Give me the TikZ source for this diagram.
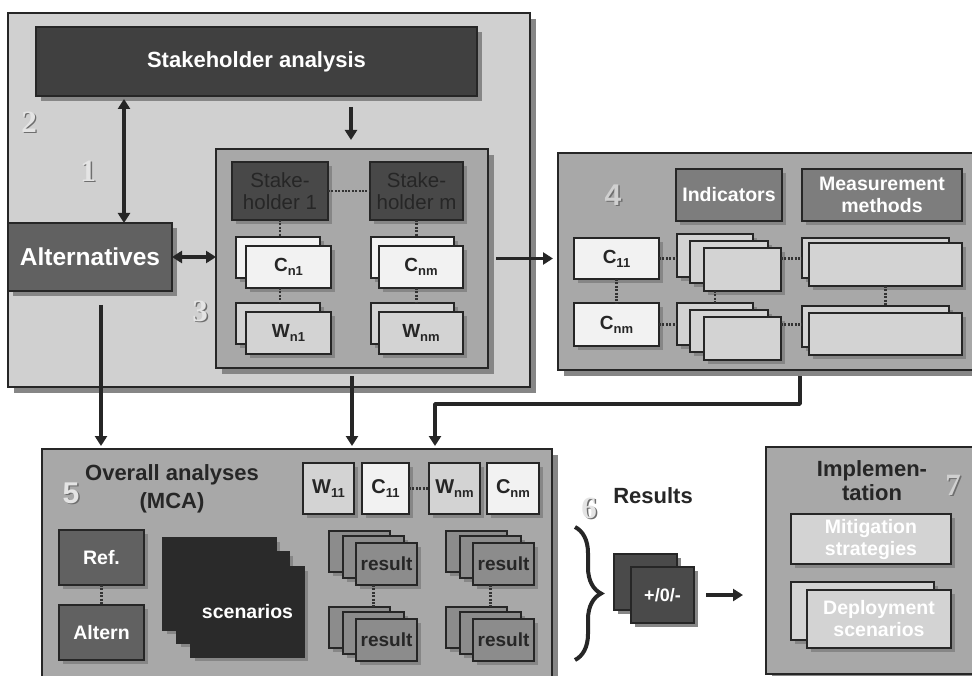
\documentclass[tikz,border=0pt]{standalone}
\usepackage{fontspec}
\setmainfont{Liberation Sans}
\newfontfamily\digfont{Liberation Serif}
\usetikzlibrary{shadows,arrows.meta,decorations.pathreplacing}
\definecolor{cBtwo}{HTML}{D0D0D0}
\definecolor{cMid}{HTML}{A8A8A8}
\definecolor{cDark}{HTML}{404040}
\definecolor{cSh}{HTML}{484848}
\definecolor{cAlt}{HTML}{616161}
\definecolor{cInd}{HTML}{7D7D7D}
\definecolor{cWh}{HTML}{F2F2F2}
\definecolor{cLt}{HTML}{D3D3D3}
\definecolor{cRes}{HTML}{8C8C8C}
\definecolor{cScen}{HTML}{2A2A2A}
\definecolor{cPM}{HTML}{4A4A4A}
\definecolor{shc}{HTML}{868686}
\definecolor{ink}{HTML}{262626}
\definecolor{digc}{HTML}{E4E4E4}
\definecolor{digs}{HTML}{6E6E6E}
\newcommand\fs[2]{\fontsize{#1}{#2}\selectfont}
\newcommand\sbs[1]{\raisebox{-0.4ex}{\fs{13}{13}#1}}
\newcommand\mkbox[7]{\node[#1,anchor=north west,minimum width={(#5)-(#3)},minimum height={(#6)-(#4)}] (#2) at (#3,#4) {#7};}
\begin{document}
\begin{tikzpicture}[x=1pt,y=-1pt,
 bx/.style={draw=black!85,line width=1.4pt,inner sep=0pt,outer sep=0pt,align=center,
   drop shadow={shadow xshift=#1,shadow yshift=-#1,fill=shc,opacity=1}},
 bx/.default=4pt,
 arr/.style={line width=3.5pt,draw=black!85,-{Triangle[length=10pt,width=12pt]}},
 darr/.style={line width=3.5pt,draw=black!85,{Triangle[length=10pt,width=12pt]}-{Triangle[length=10pt,width=12pt]}},
 dotc/.style={draw=black!80,line width=2.6pt,dash pattern=on 2pt off 1.4pt},
 txt/.style={inner sep=0pt,outer sep=0pt,text=ink,align=center},
 dig/.style={inner sep=0pt,text=digc,font=\digfont\bfseries\fs{31}{31}},
 digsh/.style={inner sep=0pt,text=digs,font=\digfont\bfseries\fs{31}{31}},
 wtxt/.style={text=white,font=\bfseries\fs{19.5}{22}},
 ktxt/.style={text=ink,font=\bfseries\fs{19}{21}}
]
\path[clip] (0,0) rectangle (972,676);
\fill[white] (0,0) rectangle (972,676);

% ---------- box 2 ----------
\mkbox{bx=6pt,fill=cBtwo}{box2}{8}{13}{530}{387}{}
\mkbox{bx=5pt,fill=cDark,text=white,font=\bfseries\fs{22}{24}}{sa}{36}{27}{477}{96}{Stakeholder analysis}
\mkbox{bx=6pt,fill=cMid}{box3}{216}{149}{488}{368}{}
\mkbox{bx=5pt,fill=cAlt,text=white,font=\bfseries\fs{24.5}{26}}{alt}{8}{223}{172}{291}{Alternatives}

\node[digsh] (n2s) at (30.5,123.5) {2};
\node[dig] (n2) at (29,122) {2};
\node[digsh] (n1s) at (89.5,172.5) {1};
\node[dig] (n1) at (88,171) {1};
\node[digsh] (n3s) at (201.5,312.5) {3};
\node[dig] (n3) at (200,311) {3};

\mkbox{bx,fill=cSh,text=ink,font=\fs{20.5}{22}}{sh1}{232}{162}{328}{220}{Stake-\\holder 1}
\mkbox{bx,fill=cSh,text=ink,font=\fs{20.5}{22}}{shm}{370}{162}{463}{220}{Stake-\\holder m}
\mkbox{bx,fill=cWh}{cn1b}{236}{237}{320}{278}{}
\mkbox{bx,fill=cWh,ktxt}{cn1}{246}{246}{331}{288}{C\sbs{n1}}
\mkbox{bx,fill=cWh}{cnmb}{371}{237}{454}{278}{}
\mkbox{bx,fill=cWh,ktxt}{cnm}{379}{246}{463}{288}{C\sbs{nm}}
\mkbox{bx,fill=cLt}{wn1b}{236}{303}{320}{344}{}
\mkbox{bx,fill=cLt,ktxt}{wn1}{246}{312}{331}{354}{W\sbs{n1}}
\mkbox{bx,fill=cLt}{wnmb}{371}{303}{454}{344}{}
\mkbox{bx,fill=cLt,ktxt}{wnm}{379}{312}{463}{354}{W\sbs{nm}}

\draw[dotc] (sh1.east) -- (shm.west);
\draw[dotc] (sh1.south) -- (sh1.south |- cn1b.north);
\draw[dotc] (sh1.south |- cn1.south) -- (sh1.south |- wn1b.north);
\draw[dotc] (shm.south) -- (shm.south |- cnmb.north);
\draw[dotc] (shm.south |- cnm.south) -- (shm.south |- wnmb.north);

\coordinate (xa) at (124,0);
\draw[darr,shorten <=3pt] (xa |- sa.south) -- (xa |- alt.north);
\coordinate (xb) at (351,0);
\draw[arr,shorten <=11pt,shorten >=9pt] (xb |- sa.south) -- (xb |- box3.north);
\draw[darr] (alt.east) -- (alt.east -| box3.west);

% ---------- box 4 ----------
\mkbox{bx=6pt,fill=cMid}{box4}{558}{153}{1000}{370}{}
\node[inner sep=0pt,text=digs,font=\bfseries\fs{30}{30}] (n4s) at (614.5,196.5) {4};
\node[inner sep=0pt,text=cBtwo,font=\bfseries\fs{30}{30}] (n4) at (613,195) {4};
\mkbox{bx,fill=cInd,wtxt}{ind}{676}{169}{782}{221}{Indicators}
\mkbox{bx,fill=cInd,wtxt}{mm}{802}{169}{962}{221}{Measurement\\methods}
\mkbox{bx,fill=cWh,ktxt}{c11}{574}{238}{659}{279}{C\sbs{11}}
\mkbox{bx,fill=cWh,ktxt}{cfnm}{574}{303}{659}{346}{C\sbs{nm}}
\mkbox{bx,fill=cLt}{ia}{677}{234}{753}{277}{}
\mkbox{bx,fill=cLt}{ib}{690}{241}{768}{283}{}
\mkbox{bx,fill=cLt}{ic}{704}{248}{781}{291}{}
\mkbox{bx,fill=cLt}{ja}{677}{303}{753}{345}{}
\mkbox{bx,fill=cLt}{jb}{690}{310}{768}{352}{}
\mkbox{bx,fill=cLt}{jc}{704}{317}{781}{360}{}
\mkbox{bx,fill=cLt}{ma}{802}{238}{949}{278}{}
\mkbox{bx,fill=cLt}{mb}{809}{243}{962}{286}{}
\mkbox{bx,fill=cLt}{na}{802}{306}{949}{347}{}
\mkbox{bx,fill=cLt}{nb}{809}{313}{962}{355}{}
\draw[dotc] (c11.south) -- (cfnm.north);
\draw[dotc] (c11.east) -- (c11.east -| ia.west);
\draw[dotc] (c11.east -| ic.east) -- (c11.east -| ma.west);
\draw[dotc] (cfnm.east) -- (cfnm.east -| ja.west);
\draw[dotc] (cfnm.east -| jc.east) -- (cfnm.east -| na.west);
\draw[dotc] (ja.north |- ic.south) -- (ja.north);
\draw[dotc] (mb.south) -- (mb.south |- na.north);

\draw[arr,shorten <=8pt,shorten >=5pt] (box3.east) -- (box3.east -| box4.west);

% ---------- box 5 ----------
\mkbox{bx=6pt,fill=cMid}{box5}{42}{449}{552}{680}{}
\coordinate (xc) at (101,0);
\draw[arr,shorten <=14pt,shorten >=3pt] (xc |- alt.south) -- (xc |- box5.north);
\draw[arr,shorten <=8pt,shorten >=3pt] (box3.south) -- (box3.south |- box5.north);
\coordinate (e1) at (800,404);
\coordinate (e2) at (435,404);
\draw[arr,shorten >=3pt,line join=round] (e1 |- box4.south) ++(0,6) -- (e1) -- (e2) -- (e2 |- box5.north);

\node[inner sep=0pt,text=digs,font=\bfseries\fs{30}{30}] (n5s) at (72.5,494.5) {5};
\node[inner sep=0pt,text=digc,font=\bfseries\fs{30}{30}] (n5) at (71,493) {5};
\node[txt,font=\bfseries\fs{22}{28}] (oa) at (172,489) {Overall analyses\\(MCA)};
\mkbox{bx,fill=cLt,ktxt,font=\bfseries\fs{20}{22}}{w11}{303}{463}{354}{514}{W\sbs{11}}
\mkbox{bx,fill=cWh,ktxt,font=\bfseries\fs{20}{22}}{cfa}{362}{463}{409}{514}{C\sbs{11}}
\mkbox{bx,fill=cLt,ktxt,font=\bfseries\fs{20}{22}}{wfnm}{429}{463}{480}{514}{W\sbs{nm}}
\mkbox{bx,fill=cWh,ktxt,font=\bfseries\fs{20}{22}}{cfb}{487}{463}{539}{514}{C\sbs{nm}}
\draw[dotc] (cfa.east) -- (wfnm.west);

\mkbox{bx,fill=cAlt,wtxt}{ref}{59}{530}{144}{585}{Ref.}
\mkbox{bx,fill=cAlt,wtxt}{altern}{59}{605}{144}{660}{Altern}
\draw[dotc] (ref.south) -- (altern.north);

\mkbox{bx,fill=cScen,draw=cScen}{sca}{163}{538}{276}{630}{}
\mkbox{bx,fill=cScen,draw=cScen}{scb}{177}{552}{289}{643}{}
\mkbox{bx,fill=cScen,draw=cScen,wtxt}{scc}{191}{567}{304}{657}{scenarios}

\mkbox{bx,fill=cRes}{ra}{329}{531}{390}{572}{}
\mkbox{bx,fill=cRes}{rb}{343}{536}{404}{578}{}
\mkbox{bx,fill=cRes,ktxt,font=\bfseries\fs{19}{21}}{rc}{356}{543}{417}{585}{result}
\mkbox{bx,fill=cRes}{sa2}{446}{531}{507}{572}{}
\mkbox{bx,fill=cRes}{sb2}{460}{536}{521}{578}{}
\mkbox{bx,fill=cRes,ktxt,font=\bfseries\fs{19}{21}}{sc2}{473}{543}{534}{585}{result}
\mkbox{bx,fill=cRes}{ta}{329}{607}{390}{648}{}
\mkbox{bx,fill=cRes}{tb}{343}{612}{404}{654}{}
\mkbox{bx,fill=cRes,ktxt,font=\bfseries\fs{19}{21}}{tc}{356}{619}{417}{661}{result}
\mkbox{bx,fill=cRes}{ua}{446}{607}{507}{648}{}
\mkbox{bx,fill=cRes}{ub}{460}{612}{521}{654}{}
\mkbox{bx,fill=cRes,ktxt,font=\bfseries\fs{19}{21}}{uc}{473}{619}{534}{661}{result}
\draw[dotc] (rb.south |- rc.south) -- (rb.south |- ta.north);
\draw[dotc] (sb2.south |- sc2.south) -- (sb2.south |- ua.north);

% ---------- results 6 ----------
\node[digsh] (n6s) at (590.5,509.5) {6};
\node[dig] (n6) at (589,508) {6};
\node[txt,font=\bfseries\fs{22}{26}] (res) at (653,496) {Results};
\coordinate (bt) at (575,527);
\coordinate (bb) at (575,660);
\draw[line width=4pt,draw=black!85,decorate,decoration={brace,amplitude=26pt}] (bt) -- (bb);
\mkbox{bx,fill=cPM}{pmb}{614}{554}{677}{610}{}
\mkbox{bx,fill=cPM,text=white,font=\bfseries\fs{18}{20}}{pm}{631}{567}{694}{623}{+/0/-}

% ---------- box 7 ----------
\mkbox{bx=6pt,fill=cMid}{box7}{766}{447}{1000}{674}{}
\draw[arr,shorten <=12pt,shorten >=23pt] (pm.east) -- (pm.east -| box7.west);
\node[txt,font=\bfseries\fs{22}{24}] (impl) at (872,481) {Implemen-\\tation};
\node[inner sep=0pt,text=digs,font=\digfont\bfseries\fs{31}{31}] (n7s) at (954.5,486.5) {7};
\node[inner sep=0pt,text=cBtwo,font=\digfont\bfseries\fs{31}{31}] (n7) at (953,485) {7};
\mkbox{bx,fill=cLt,text=white,font=\bfseries\fs{19.5}{22}}{mit}{791}{514}{951}{564}{Mitigation\\strategies}
\mkbox{bx,fill=cLt}{depb}{791}{582}{934}{640}{}
\mkbox{bx,fill=cLt,text=white,font=\bfseries\fs{19.5}{22}}{dep}{807}{590}{951}{648}{Deployment\\scenarios}
\end{tikzpicture}
\end{document}
